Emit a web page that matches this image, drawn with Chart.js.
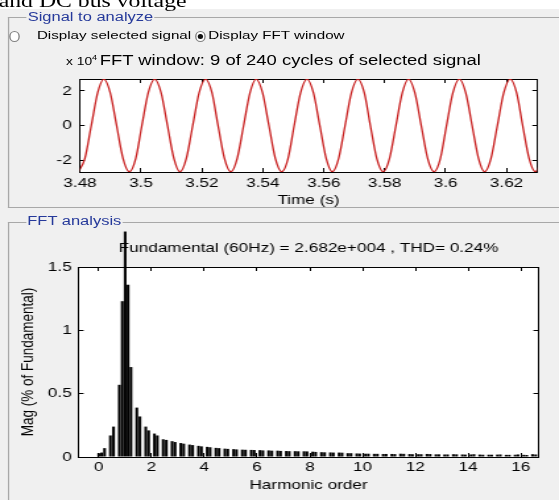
<!DOCTYPE html>
<html>
<head>
<meta charset="utf-8">
<script src="https://cdn.jsdelivr.net/npm/chart.js@4.4.1/dist/chart.umd.min.js"></script>
<style>
  html, body { margin: 0; padding: 0; background: #fff; overflow: hidden; }
  body { width: 559px; height: 500px; position: relative; font-family: "Liberation Sans", Arial, sans-serif; }
  /* the screenshot is stretched sideways, so everything is laid out narrow and scaled */
  #stage { position: absolute; left: 0; top: 0; width: 424px; height: 500px; transform: scaleX(1.3184); transform-origin: 0 0; }
  .abs { position: absolute; white-space: nowrap; line-height: 1; }
  .box { position: absolute; border: 1px solid #a8a8a8; border-right: none; }
  .legend { color: #25399a; font-size: 12.5px; background: #f0f0f0; padding: 0 1px; }
  .radio { position: absolute; box-sizing: border-box; width: 8.4px; height: 11px; border: 1px solid #808080; border-radius: 50%; background: #fff; }
  .dot { position: absolute; left: 1.9px; top: 2.5px; width: 3.8px; height: 5px; border-radius: 50%; background: #111; }
  canvas { position: absolute; left: 0; }
</style>
</head>
<body>
<div id="stage">
  <div class="abs" style="left:-2px;top:9px;width:430px;height:491px;background:#f0f0f0;"></div>
  <div class="abs" style="left:-1px;top:-8.6px;font:18px 'Liberation Serif', serif;color:#000;">and DC bus voltage</div>

  <div class="box" style="left:6px;top:17px;width:430px;height:189px;"></div>
  <div class="abs legend" style="left:20px;top:10.75px;">Signal to analyze</div>
  <div class="radio" style="left:6.8px;top:30.5px;"></div>
  <div class="abs" style="left:28px;top:30.25px;font-size:11.5px;">Display selected signal</div>
  <div class="radio" style="left:147.5px;top:30.5px;"><div class="dot"></div></div>
  <div class="abs" style="left:158px;top:30.25px;font-size:11.5px;">Display FFT window</div>
  <div class="abs" style="left:50px;top:55.5px;font-size:10.5px;">x 10<span style="font-size:7px;position:relative;top:-5px;">4</span></div>
  <div class="abs" style="left:75.6px;top:52.5px;font-size:14px;">FFT window: 9 of 240 cycles of selected signal</div>

  <div class="box" style="left:6px;top:222px;width:430px;height:300px;"></div>
  <div class="abs legend" style="left:19.7px;top:215.25px;">FFT analysis</div>

  <canvas id="sig" width="424" height="150" style="top:60px;"></canvas>
  <canvas id="fft" width="424" height="275" style="top:225px;"></canvas>
</div>

<script>
// selected signal window, x 10^4 (samples)
const sigTime = [
  3.4795, 3.4816, 3.4837, 3.4858, 3.4878, 3.4899, 3.4920, 3.4941,
  3.4962, 3.4983, 3.5003, 3.5024, 3.5045, 3.5066, 3.5087, 3.5108,
  3.5128, 3.5149, 3.5170, 3.5191, 3.5212, 3.5233, 3.5253, 3.5274,
  3.5295, 3.5316, 3.5337, 3.5358, 3.5378, 3.5399, 3.5420, 3.5441,
  3.5462, 3.5483, 3.5503, 3.5524, 3.5545, 3.5566, 3.5587, 3.5608,
  3.5628, 3.5649, 3.5670, 3.5691, 3.5712, 3.5733, 3.5753, 3.5774,
  3.5795, 3.5816, 3.5837, 3.5858, 3.5878, 3.5899, 3.5920, 3.5941,
  3.5962, 3.5983, 3.6003, 3.6024, 3.6045, 3.6066, 3.6087, 3.6108,
  3.6128, 3.6149, 3.6170, 3.6191, 3.6212, 3.6233, 3.6253, 3.6274,
  3.6295, 3.6316
];
const sigValue = [
  -2.68, -1.9, 0, 1.9, 2.68, 1.9, 0, -1.9,
  -2.68, -1.9, 0, 1.9, 2.68, 1.9, 0, -1.9,
  -2.68, -1.9, 0, 1.9, 2.68, 1.9, 0, -1.9,
  -2.68, -1.9, 0, 1.9, 2.68, 1.9, 0, -1.9,
  -2.68, -1.9, 0, 1.9, 2.68, 1.9, 0, -1.9,
  -2.68, -1.9, 0, 1.9, 2.68, 1.9, 0, -1.9,
  -2.68, -1.9, 0, 1.9, 2.68, 1.9, 0, -1.9,
  -2.68, -1.9, 0, 1.9, 2.68, 1.9, 0, -1.9,
  -2.68, -1.9, 0, 1.9, 2.68, 1.9, 0, -1.9,
  -2.68, -1.9
];
const timeTicks = [3.48, 3.5, 3.52, 3.54, 3.56, 3.58, 3.6, 3.62];
const sigTicks = [-2, 0, 2];

// FFT bins (harmonic order) and magnitude in % of fundamental
const harmOrder = [
  0, 0.11, 0.22, 0.33, 0.44, 0.56, 0.67, 0.78, 0.89,
  1, 1.11, 1.22, 1.33, 1.44, 1.56, 1.67, 1.78, 1.89,
  2, 2.11, 2.22, 2.33, 2.44, 2.56, 2.67, 2.78, 2.89,
  3, 3.11, 3.22, 3.33, 3.44, 3.56, 3.67, 3.78, 3.89,
  4, 4.11, 4.22, 4.33, 4.44, 4.56, 4.67, 4.78, 4.89,
  5, 5.11, 5.22, 5.33, 5.44, 5.56, 5.67, 5.78, 5.89,
  6, 6.11, 6.22, 6.33, 6.44, 6.56, 6.67, 6.78, 6.89,
  7, 7.11, 7.22, 7.33, 7.44, 7.56, 7.67, 7.78, 7.89,
  8, 8.11, 8.22, 8.33, 8.44, 8.56, 8.67, 8.78, 8.89,
  9, 9.11, 9.22, 9.33, 9.44, 9.56, 9.67, 9.78, 9.89,
  10, 10.11, 10.22, 10.33, 10.44, 10.56, 10.67, 10.78, 10.89,
  11, 11.11, 11.22, 11.33, 11.44, 11.56, 11.67, 11.78, 11.89,
  12, 12.11, 12.22, 12.33, 12.44, 12.56, 12.67, 12.78, 12.89,
  13, 13.11, 13.22, 13.33, 13.44, 13.56, 13.67, 13.78, 13.89,
  14, 14.11, 14.22, 14.33, 14.44, 14.56, 14.67, 14.78, 14.89,
  15, 15.11, 15.22, 15.33, 15.44, 15.56, 15.67, 15.78, 15.89,
  16, 16.11, 16.22, 16.33, 16.44, 16.56
];
const harmMag = [
  0.03, 0.035, 0.07, 0, 0.17, 0.24, 0, 0.57, 1.23,
  1.78, 1.36, 0.71, 0, 0.39, 0.32, 0, 0.24, 0.21,
  0, 0.185, 0.17, 0, 0.14, 0.135, 0, 0.125, 0.118,
  0, 0.11, 0.105, 0, 0.098, 0.094, 0, 0.088, 0.084,
  0, 0.08, 0.077, 0, 0.072, 0.07, 0, 0.066, 0.064,
  0, 0.062, 0.06, 0, 0.058, 0.057, 0, 0.056, 0.055,
  0, 0.054, 0.052, 0, 0.052, 0.05, 0, 0.05, 0.048,
  0, 0.047, 0.046, 0, 0.046, 0.045, 0, 0.045, 0.044,
  0, 0.042, 0.04, 0, 0.038, 0.037, 0, 0.036, 0.035,
  0, 0.035, 0.034, 0, 0.03, 0.03, 0, 0.028, 0.027,
  0, 0.026, 0.026, 0, 0.025, 0.025, 0, 0.024, 0.024,
  0, 0.024, 0.023, 0, 0.026, 0.025, 0, 0.023, 0.022,
  0, 0.022, 0.022, 0, 0.024, 0.023, 0, 0.021, 0.021,
  0, 0.02, 0.02, 0, 0.022, 0.021, 0, 0.02, 0.019,
  0, 0.02, 0.022, 0, 0.019, 0.018, 0, 0.018, 0.018,
  0, 0.019, 0.02, 0, 0.017, 0.017, 0, 0.018, 0.02,
  0, 0.017, 0.016, 0, 0.022, 0.02
];
const harmTicks = [0, 2, 4, 6, 8, 10, 12, 14, 16];
const magTicks = [0, 0.5, 1, 1.5];

Chart.defaults.font.family = '"Liberation Sans", Arial, sans-serif';
Chart.defaults.color = '#000';

// white plot box like the MATLAB axes
const whiteArea = {
  id: 'whiteArea',
  beforeDraw(chart) {
    const { ctx, chartArea: a } = chart;
    ctx.save();
    ctx.fillStyle = '#fff';
    ctx.fillRect(a.left, a.top, a.width, a.height);
    ctx.restore();
  }
};

// one axis with inward tick marks; labels only on the left/bottom ones
function axis(position, min, max, tickVals, size, labelPad, title) {
  const horizontal = position === 'top' || position === 'bottom';
  const showLabels = position === 'bottom' || position === 'left';
  return {
    type: 'linear',
    position: position,
    min: min,
    max: max,
    offset: false,
    afterBuildTicks: s => { s.ticks = tickVals.map(v => ({ value: v })); },
    afterFit: s => { if (horizontal) s.height = size; else s.width = size; },
    grid: { drawOnChartArea: false, drawTicks: true, tickLength: horizontal ? -4 : -3.5, tickColor: '#000', offset: false },
    border: { display: true, color: '#000', width: 1 },
    ticks: {
      display: showLabels,
      autoSkip: false,
      maxRotation: 0,
      padding: labelPad,
      color: '#000',
      font: { size: 13 },
      callback: v => String(v)
    },
    title: title || { display: false }
  };
}

new Chart(document.getElementById('sig'), {
  type: 'line',
  data: {
    datasets: [{
      data: sigTime.map((t, i) => ({ x: t, y: sigValue[i] })),
      borderColor: '#c81e1e',
      borderWidth: 1.3,
      pointRadius: 0,
      cubicInterpolationMode: 'monotone',
      fill: false
    }]
  },
  options: {
    responsive: false,
    animation: false,
    events: [],
    layout: { padding: { top: 19, right: 16.7, left: 0, bottom: 0 } },
    plugins: { legend: { display: false }, tooltip: { enabled: false } },
    scales: {
      x: axis('bottom', 3.48, 3.63, timeTicks, 38, 7.5,
        { display: true, text: 'Time (s)', color: '#000', font: { size: 13 }, padding: { top: 0, bottom: 1.7 } }),
      y: axis('left', -2.69, 2.69, sigTicks, 60.7, 9.8),
      x2: axis('top', 3.48, 3.63, timeTicks, 0, 0),
      y2: axis('right', -2.69, 2.69, sigTicks, 0, 0)
    }
  },
  plugins: [whiteArea]
});

new Chart(document.getElementById('fft'), {
  type: 'bar',
  data: {
    datasets: [{
      data: harmOrder.map((h, i) => ({ x: h, y: harmMag[i] })),
      backgroundColor: '#000',
      borderWidth: 0,
      barPercentage: 0.95,
      categoryPercentage: 1,
      clip: false
    }]
  },
  options: {
    responsive: false,
    animation: false,
    events: [],
    layout: { padding: { top: 0, right: 15.9, left: 0, bottom: 0 } },
    plugins: {
      legend: { display: false },
      tooltip: { enabled: false },
      title: {
        display: true,
        text: 'Fundamental (60Hz) = 2.682e+004 , THD= 0.24%',
        fullSize: false,
        color: '#000',
        font: { size: 13, weight: 'normal' },
        padding: { top: 15.2, bottom: 11.2 }
      }
    },
    scales: {
      x: axis('bottom', -0.75, 16.65, harmTicks, 43, 7,
        { display: true, text: 'Harmonic order', color: '#000', font: { size: 13 }, padding: { top: 0, bottom: 7.2 } }),
      y: axis('left', 0, 1.5, magTicks, 59.9, 9,
        { display: true, text: 'Mag (% of Fundamental)', color: '#000', font: { size: 13.5 }, padding: { top: 12.8, bottom: 0 } }),
      x2: axis('top', -0.75, 16.65, harmTicks, 0, 0),
      y2: axis('right', 0, 1.5, magTicks, 0, 0)
    }
  },
  plugins: [whiteArea]
});
</script>
</body>
</html>
